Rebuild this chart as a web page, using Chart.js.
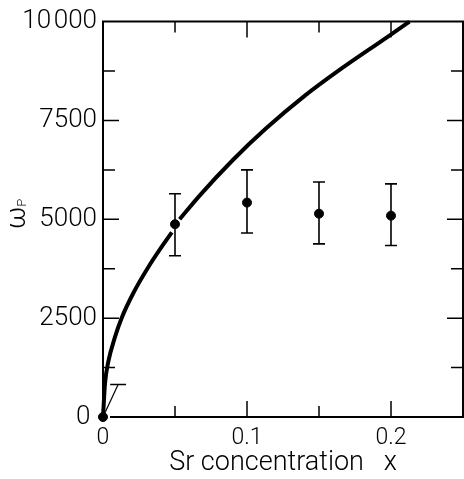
<!DOCTYPE html>
<html>
<head>
<meta charset="utf-8">
<script src="https://cdn.jsdelivr.net/npm/chart.js@4.4.0/dist/chart.umd.min.js"></script>
<style>
  html, body { margin: 0; padding: 0; background: #fff; }
  #wrap { width: 464px; height: 479px; }
</style>
</head>
<body>
<div id="wrap"><canvas id="chart" width="464" height="479"></canvas></div>
<script>
// measured points with error bars
const srX = [0, 0.05, 0.1, 0.15, 0.2];
const omegaP = [0, 4876, 5423, 5142, 5092];
const errLow = [null, 4080, 4652, 4378, 4336];
const errHigh = [null, 5647, 6250, 5945, 5896];

// theory curve (null = break around the x=0.05 dot)
const curveX = [0, 0.0014, 0.0037, 0.0083, 0.0129, 0.021, 0.0325, 0.0441, 0.0478, 0.0503, 0.0532, 0.0671, 0.0902, 0.1133, 0.14, 0.164, 0.1979, 0.2128];
const curveY = [0, 850, 1400, 2020, 2500, 3130, 3850, 4480, 4670, null, 5000, 5600, 6500, 7300, 8120, 8770, 9620, 10000];

// small slanted bar at the origin
const originBarX = [0, 0.0105];
const originBarY = [0, 820];
const originCapX = [0.005, 0.016];

// axes
const xTicks = [0, 0.1, 0.2];
const xTickLabels = ['0', '0.1', '0.2'];
const xMinor = [0.05, 0.15];
const yTicks = [0, 2500, 5000, 7500, 10000];
const yTickLabels = ['0\u2005', '2500', '5000', '7500', '10\u200a000'];
const yMinor = [1250, 3750, 6250, 8750];

const FONT = 'Roboto, "Liberation Sans", sans-serif';

const toXY = (xs, ys) => xs.map((x, i) => ({ x: x, y: ys[i] }));

const frame = {
  id: 'frame',
  afterDraw(chart) {
    const { ctx, chartArea: a, scales: { x, y } } = chart;
    ctx.save();
    ctx.strokeStyle = '#000';
    ctx.lineWidth = 2;
    ctx.beginPath();
    ctx.moveTo(a.left, a.bottom - 10);
    ctx.lineTo(a.left, a.top);
    ctx.lineTo(a.right, a.top);
    ctx.lineTo(a.right, a.bottom);
    ctx.lineTo(a.left + 7, a.bottom);
    ctx.stroke();

    ctx.lineWidth = 1.5;
    ctx.beginPath();
    const tickX = (v, len) => {
      const px = x.getPixelForValue(v);
      ctx.moveTo(px, a.bottom); ctx.lineTo(px, a.bottom - len);
      ctx.moveTo(px, a.top); ctx.lineTo(px, a.top + len);
    };
    const tickY = (v, len) => {
      const py = y.getPixelForValue(v);
      ctx.moveTo(a.left, py); ctx.lineTo(a.left + len, py);
      ctx.moveTo(a.right, py); ctx.lineTo(a.right - len, py);
    };
    xTicks.slice(1).forEach(v => tickX(v, 16));
    xMinor.forEach(v => tickX(v, 11));
    yTicks.slice(1, -1).forEach(v => tickY(v, 16));
    yMinor.forEach(v => tickY(v, 12));
    ctx.stroke();

    // y axis label: omega with subscript p
    ctx.fillStyle = '#000';
    ctx.translate(25, 229);
    ctx.rotate(-Math.PI / 2);
    ctx.textBaseline = 'alphabetic';
    ctx.textAlign = 'left';
    ctx.font = '300 27px ' + FONT;
    ctx.fillText('\u03c9', 0, 0);
    const w = ctx.measureText('\u03c9').width;
    ctx.font = '300 13px ' + FONT;
    ctx.fillText('P', w, 1);
    ctx.restore();
  }
};

const errorBars = {
  id: 'errorBars',
  afterDatasetsDraw(chart) {
    const { ctx, scales: { x, y } } = chart;
    ctx.save();
    ctx.strokeStyle = '#000';
    ctx.lineWidth = 1.6;
    ctx.beginPath();
    srX.forEach((v, i) => {
      if (errLow[i] === null) return;
      const px = x.getPixelForValue(v);
      const lo = y.getPixelForValue(errLow[i]);
      const hi = y.getPixelForValue(errHigh[i]);
      ctx.moveTo(px, lo); ctx.lineTo(px, hi);
      ctx.moveTo(px - 6, lo); ctx.lineTo(px + 6, lo);
      ctx.moveTo(px - 6, hi); ctx.lineTo(px + 6, hi);
    });
    ctx.stroke();
    ctx.restore();
  }
};

new Chart(document.getElementById('chart'), {
  type: 'scatter',
  data: {
    datasets: [
      {
        type: 'line',
        data: toXY(curveX, curveY),
        borderColor: '#000',
        borderWidth: 4,
        pointRadius: 0,
        cubicInterpolationMode: 'monotone',
        spanGaps: false,
        clip: false
      },
      {
        type: 'line',
        data: toXY(originBarX, originBarY),
        borderColor: '#000',
        borderWidth: 1.2,
        pointRadius: 0
      },
      {
        type: 'line',
        data: toXY(originCapX, originCapX.map(() => originBarY[1])),
        borderColor: '#000',
        borderWidth: 1.5,
        pointRadius: 0
      },
      {
        data: toXY(srX, omegaP),
        backgroundColor: '#000',
        borderColor: '#000',
        pointRadius: 4.5,
        clip: false
      }
    ]
  },
  options: {
    responsive: false,
    animation: false,
    layout: { autoPadding: false, padding: { top: 15, right: 1, left: 0, bottom: 0 } },
    plugins: { legend: { display: false }, tooltip: { enabled: false } },
    scales: {
      x: {
        type: 'linear',
        min: 0,
        max: 0.25,
        grid: { display: false, drawTicks: false },
        border: { display: false },
        afterBuildTicks: s => { s.ticks = xTicks.map(v => ({ value: v })); },
        afterFit: s => { s.height = 62; },
        ticks: {
          color: '#000',
          font: { family: FONT, size: 23, weight: 300 },
          padding: 7,
          maxRotation: 0,
          callback: v => xTickLabels[xTicks.indexOf(v)]
        },
        title: {
          display: true,
          text: 'Sr concentration   x',
          color: '#000',
          font: { family: FONT, size: 27, weight: 300 },
          padding: { top: 0, bottom: 0 }
        }
      },
      y: {
        min: 0,
        max: 10000,
        grid: { display: false, drawTicks: false },
        border: { display: false },
        afterBuildTicks: s => { s.ticks = yTicks.map(v => ({ value: v })); },
        afterFit: s => { s.width = 103; },
        ticks: {
          color: '#000',
          font: { family: FONT, size: 26, weight: 300 },
          padding: 6,
          callback: v => yTickLabels[yTicks.indexOf(v)]
        }
      }
    }
  },
  plugins: [frame, errorBars]
});
</script>
</body>
</html>
